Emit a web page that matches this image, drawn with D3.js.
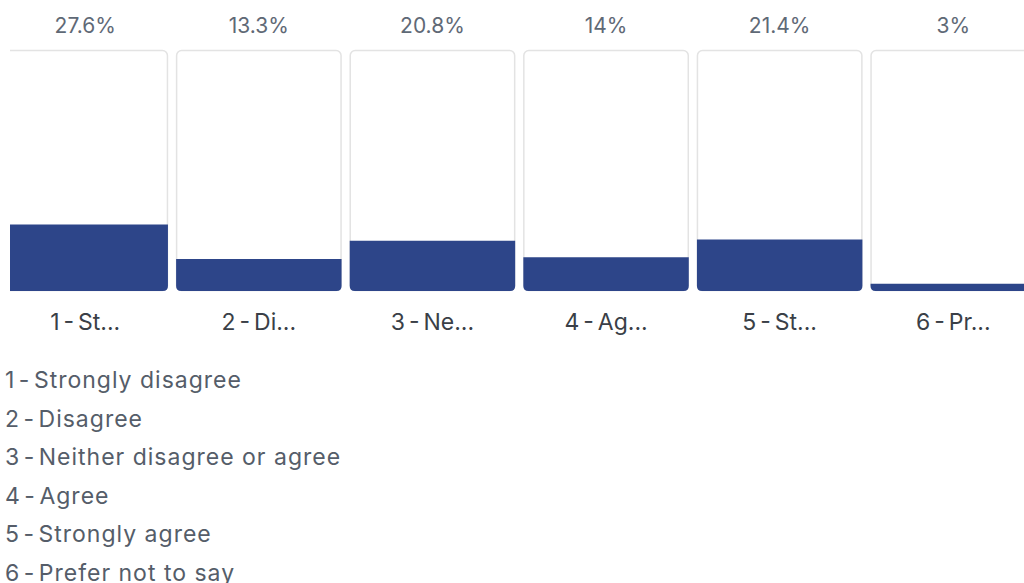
<!DOCTYPE html>
<html>
<head>
<meta charset="utf-8">
<script src="https://cdn.jsdelivr.net/npm/d3@7"></script>
<style>
	html, body { margin: 0; padding: 0; background: #fff; }
	svg { display: block; font-family: "Inter", "Open Sans", sans-serif; }
</style>
</head>
<body>
<svg id="chart" width="1024" height="583"></svg>
<script>
// --------- Data --------- //
var categories = ["1 - St...", "2 - Di...", "3 - Ne...", "4 - Ag...", "5 - St...", "6 - Pr..."];
var values = [27.6, 13.3, 20.8, 14, 21.4, 3];
var valueLabels = ["27.6%", "13.3%", "20.8%", "14%", "21.4%", "3%"];
var legendItems = [
	"1 - Strongly disagree",
	"2 - Disagree",
	"3 - Neither disagree or agree",
	"4 - Agree",
	"5 - Strongly agree",
	"6 - Prefer not to say"
];
// --------- /Data --------- //

var svg = d3.select("#chart");
var barColor = "#2d4589";
var rad = 5;

var x = d3.scaleBand()
	.domain(d3.range(categories.length))
	.range([2.5, 1036])
	.paddingInner(0.047)
	.paddingOuter(0);

var y = d3.scaleLinear().domain([0, 100]).range([291, 50]);

svg.append("clipPath").attr("id", "clip")
	.append("rect").attr("x", 10).attr("y", 0).attr("width", 1014).attr("height", 583);

var g = svg.append("g").attr("clip-path", "url(#clip)");

// rounded-bottom path for the filled part
function fillPath(x0, w, top, bottom){
	var r = Math.min(rad, bottom - top);
	return "M" + x0 + "," + top +
		"H" + (x0 + w) +
		"V" + (bottom - r) +
		"Q" + (x0 + w) + "," + bottom + " " + (x0 + w - r) + "," + bottom +
		"H" + (x0 + r) +
		"Q" + x0 + "," + bottom + " " + x0 + "," + (bottom - r) +
		"Z";
}

var cols = g.selectAll("g.col")
	.data(values)
	.enter().append("g").attr("class", "col");

cols.append("rect")
	.attr("x", function(d, i){ return x(i) + 0.5; })
	.attr("y", y(100) + 0.5)
	.attr("width", x.bandwidth() - 1)
	.attr("height", y(0) - y(100) - 1)
	.attr("rx", rad)
	.attr("fill", "#fff")
	.attr("stroke", "#e3e3e3")
	.attr("stroke-width", 1.5);

cols.append("path")
	.attr("d", function(d, i){ return fillPath(x(i), x.bandwidth(), y(d), y(0)); })
	.attr("fill", barColor);

g.selectAll("text.val")
	.data(valueLabels)
	.enter().append("text").attr("class", "val")
	.attr("x", function(d, i){ return x(i) + x.bandwidth() / 2; })
	.attr("y", 33)
	.attr("text-anchor", "middle")
	.attr("font-size", 21)
	.attr("fill", "#5f6976")
	.text(function(d){ return d; });

g.selectAll("text.cat")
	.data(categories)
	.enter().append("text").attr("class", "cat")
	.attr("x", function(d, i){ return x(i) + x.bandwidth() / 2; })
	.attr("y", 330)
	.attr("text-anchor", "middle")
	.attr("font-size", 23)
	.attr("word-spacing", -2.5)
	.attr("fill", "#3a3f47")
	.text(function(d){ return d; });

// legend
var ly = d3.scalePoint().domain(d3.range(legendItems.length)).range([388, 581]);

var leg = svg.selectAll("text.leg")
	.data(legendItems)
	.enter().append("text").attr("class", "leg")
	.attr("x", 5)
	.attr("y", function(d, i){ return ly(i); })
	.attr("font-size", 23)
	.attr("letter-spacing", 1)
	.attr("fill", "#555d69");

leg.append("tspan")
	.attr("word-spacing", -4)
	.text(function(d){ return d.slice(0, 4); });
leg.append("tspan")
	.text(function(d){ return d.slice(4); });
</script>
</body>
</html>
